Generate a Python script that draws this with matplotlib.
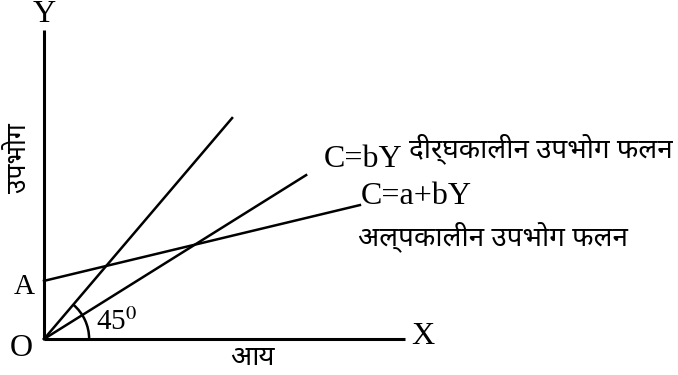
import matplotlib
matplotlib.use("Agg")
import matplotlib.pyplot as plt
from matplotlib import font_manager as fm
from matplotlib.patches import Arc

# diagram units: origin O at (0, 0)
axis_x = [0, 10.0]          # X axis extent
axis_y = [0, 8.56]          # Y axis extent
steep_x = [0, 5.21]         # steep line through origin
steep_y = [0, 6.12]
lr_x = [0, 7.26]            # C = bY (long run)
lr_y = [0, 4.54]
sr_x = [0, 8.75]            # C = a + bY (short run), starts at A
sr_y = [1.61, 3.71]
angle_deg = 49.6            # arc from X axis up to the steep line

names = {f.name for f in fm.fontManager.ttflist}
deva = next((n for n in ["Noto Sans Devanagari", "Hind", "Mukta", "Poppins", "Annapurna SIL"]
             if n in names), "DejaVu Sans")
SERIF = ["Liberation Serif", "DejaVu Serif"]
DEVA = [deva, "DejaVu Sans"]
plt.rcParams["mathtext.fontset"] = "stix"

fig = plt.figure(figsize=(6.78, 3.75), dpi=100)
ax = fig.add_axes([0, 0, 1, 1])
ax.set_xlim(-1.219, 17.56)
ax.set_ylim(-0.997, 9.39)
ax.axis("off")

lw = 1.8
ax.plot([axis_x[0], axis_x[0]], axis_y, color="black", lw=2.2, solid_capstyle="butt")
ax.plot(axis_x, [axis_y[0], axis_y[0]], color="black", lw=2.2, solid_capstyle="butt")
ax.plot(steep_x, steep_y, color="black", lw=lw)
ax.plot(lr_x, lr_y, color="black", lw=lw)
ax.plot(sr_x, sr_y, color="black", lw=lw)
ax.add_patch(Arc((0, 0), 2.5, 2.5, theta1=0, theta2=angle_deg, color="black", lw=lw))

ax.text(0, 9.0, "Y", fontsize=23, family=SERIF, ha="center", va="center")
ax.text(-0.55, 1.44, "A", fontsize=21, family=SERIF, ha="center", va="center")
ax.text(-0.62, -0.25, "O", fontsize=23, family=SERIF, ha="center", va="center")
ax.text(10.5, 0.06, "X", fontsize=23, family=SERIF, ha="center", va="center")
ax.text(1.45, 0.47, r"45$^{0}$", fontsize=21, family=SERIF, ha="left", va="center")
ax.text(7.75, 4.96, "C=bY", fontsize=23, family=SERIF, ha="left", va="center")
ax.text(8.78, 3.96, "C=a+bY", fontsize=23, family=SERIF, ha="left", va="center")

ax.text(5.76, -0.53, "आय", fontsize=20, family=DEVA, ha="center", va="center")
ax.text(-0.68, 5.01, "उपभोग", fontsize=19, family=DEVA, ha="center", va="center",
        rotation=90)
ax.text(10.12, 5.28, "दीर्घकालीन उपभोग फलन", fontsize=20, family=DEVA,
        ha="left", va="center")
ax.text(8.70, 2.83, "अल्पकालीन उपभोग फलन", fontsize=20, family=DEVA,
        ha="left", va="center")

fig.savefig("out.png", dpi=100, facecolor="white")
